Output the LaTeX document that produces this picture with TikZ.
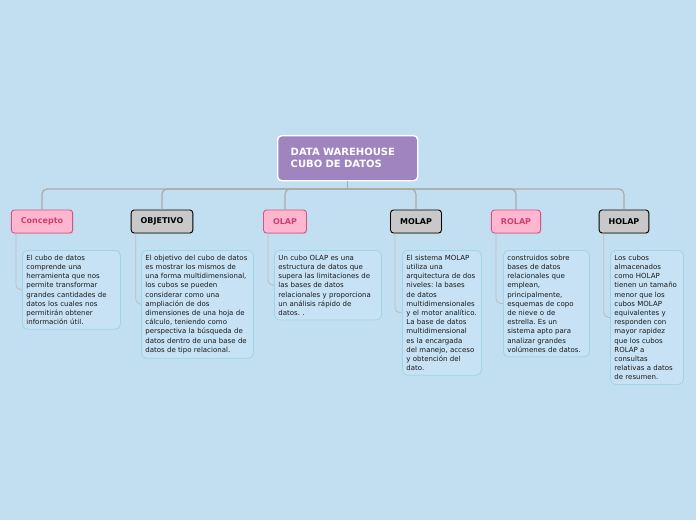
\documentclass[tikz,border=0pt]{standalone}
\usepackage{fontspec}
\setmainfont{DejaVu Sans}
\frenchspacing
\usetikzlibrary{calc,shadows}
\definecolor{bg}{RGB}{194,223,241}
\definecolor{rootfill}{RGB}{160,132,192}
\definecolor{pinkfill}{RGB}{255,182,206}
\definecolor{pinkborder}{RGB}{214,84,132}
\definecolor{pinktext}{RGB}{206,62,112}
\definecolor{grayfill}{RGB}{200,200,200}
\definecolor{descfill}{RGB}{198,226,244}
\definecolor{descborder}{RGB}{160,214,226}
\definecolor{busline}{RGB}{170,170,170}
\definecolor{subline}{RGB}{190,190,190}
\definecolor{txt}{RGB}{25,25,25}
\tikzset{
  x=1pt,y=-1pt,
  rootbox/.style={draw=white,line width=1.4pt,fill=rootfill,rounded corners=4pt,
    text=white,font=\fontsize{10}{12}\selectfont\bfseries,align=left,
    text width=114pt,inner xsep=13pt,minimum height=45pt,anchor=north west},
  pinkbox/.style={draw=pinkborder,line width=0.9pt,fill=pinkfill,rounded corners=3pt,
    text=pinktext,font=\fontsize{8}{9}\selectfont\bfseries,inner xsep=9.5pt,
    minimum height=23pt,drop shadow={shadow xshift=0.6pt,shadow yshift=-0.8pt,opacity=0.25}},
  graybox/.style={draw=black,line width=0.9pt,fill=grayfill,rounded corners=3pt,
    text=black,font=\fontsize{8}{9}\selectfont\bfseries,inner xsep=9.5pt,
    minimum height=23pt,drop shadow={shadow xshift=0.6pt,shadow yshift=-0.8pt,opacity=0.25}},
  descbox/.style={draw=descborder,line width=0.8pt,fill=descfill,rounded corners=5pt,
    text=txt,font=\fontsize{7}{9.2}\selectfont\frenchspacing,align=left,inner xsep=4pt,
    inner ysep=4.5pt,anchor=north west},
  bus/.style={draw=busline,line width=1.2pt,rounded corners=5pt},
  sub/.style={draw=subline,line width=0.8pt,rounded corners=5pt},
}
\begin{document}
\begin{tikzpicture}
\fill[bg] (0,0) rectangle (696,520);
\useasboundingbox (0,0) rectangle (696,520);

\node[rootbox] (root) at (277,135) {DATA WAREHOUSE\\CUBO DE DATOS};
\coordinate (hub) at (root.south |- 0,189);

% child nodes
\node[pinkbox] (c1) at (42,221.5) {Concepto};
\node[graybox] (c2) at (162,221.5) {OBJETIVO};
\node[pinkbox] (c3) at (285,221.5) {OLAP};
\node[graybox] (c4) at (416,221.5) {MOLAP};
\node[pinkbox] (c5) at (516,221.5) {ROLAP};
\node[graybox] (c6) at (624,221.5) {HOLAP};

% bus connectors
\draw[bus] (root.south) -- (hub);
\draw[bus] (hub) -| (c1.north);
\draw[bus] (hub) -| (c2.north);
\draw[bus] (hub) -| (c3.north);
\draw[bus] (hub) -| (c4.north);
\draw[bus] (hub) -| (c5.north);
\draw[bus] (hub) -| (c6.north);

% description boxes
\node[descbox,text width=90pt] (d1) at (22,250) {El cubo de datos\\comprende una\\herramienta que nos\\permite transformar\\grandes cantidades de\\datos los cuales nos\\permitirán obtener\\información útil.};
\node[descbox,text width=104pt] (d2) at (141,250) {El objetivo del cubo de datos\\es mostrar los mismos de\\una forma multidimensional,\\los cubos se pueden\\considerar como una\\ampliación de dos\\dimensiones de una hoja de\\cálculo, teniendo como\\perspectiva la búsqueda de\\datos dentro de una base de\\datos de tipo relacional.};
\node[descbox,text width=99pt] (d3) at (274,250) {Un cubo OLAP es una\\estructura de datos que\\supera las limitaciones de\\las bases de datos\\relacionales y proporciona\\un análisis rápido de\\datos. .};
\node[descbox,text width=71pt] (d4) at (402,250) {El sistema MOLAP\\utiliza una\\arquitectura de dos\\niveles: la bases\\de datos\\multidimensionales\\y el motor analítico.\\La base de datos\\multidimensional\\es la encargada\\del manejo, acceso\\y obtención del\\dato.};
\node[descbox,text width=78pt] (d5) at (503,250) {construidos sobre\\bases de datos\\relacionales que\\emplean,\\principalmente,\\esquemas de copo\\de nieve o de\\estrella. Es un\\sistema apto para\\analizar grandes\\volúmenes de datos.};
\node[descbox,text width=65pt] (d6) at (610,250) {Los cubos\\almacenados\\como HOLAP\\tienen un tamaño\\menor que los\\cubos MOLAP\\equivalentes y\\responden con\\mayor rapidez\\que los cubos\\ROLAP a\\consultas\\relativas a datos\\de resumen.};

% sub connectors
\draw[sub] ($(c1.south west)+(5,0)$) |- (d1.west);
\draw[sub] ($(c2.south west)+(5,0)$) |- (d2.west);
\draw[sub] ($(c3.south west)+(5,0)$) |- (d3.west);
\draw[sub] ($(c4.south west)+(5,0)$) |- (d4.west);
\draw[sub] ($(c5.south west)+(5,0)$) |- (d5.west);
\draw[sub] ($(c6.south west)+(5,0)$) |- (d6.west);
\end{tikzpicture}
\end{document}
